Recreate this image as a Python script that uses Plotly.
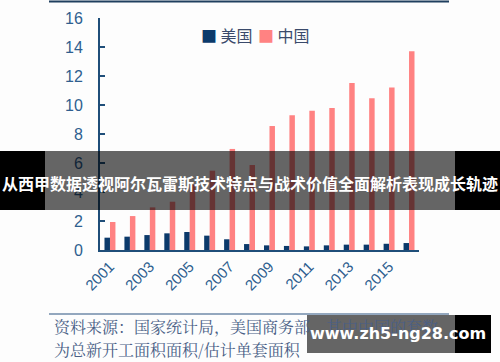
import plotly.graph_objects as go

years = list(range(2001, 2017))
us_values = [0.85, 0.92, 1.03, 1.15, 1.24, 0.99, 0.74, 0.41, 0.32, 0.28, 0.25, 0.32, 0.37, 0.37, 0.43, 0.48]
cn_values = [1.93, 2.34, 2.94, 3.33, 4.5, 5.47, 6.97, 5.86, 8.55, 9.29, 9.61, 9.79, 11.52, 10.46, 11.2, 13.7]
series_names = ["美国", "中国"]
series_colors = ["#0B3A6B", "#FF8282"]
x_tick_labels = [str(y) for y in range(2001, 2016, 2)]
y_tick_vals = list(range(0, 17, 2))
banner_text = "从西甲数据透视阿尔瓦雷斯技术特点与战术价值全面解析表现成长轨迹"
source_lines = ["资料来源：国家统计局，美国商务部，其中中国的套数", "为总新开工面积面积/估计单套面积"]
watermark = "www.zh5-ng28.com"

W, H = 500, 362
L, R, T, B = 100, 419, 18, 250


def px(x):
    return (x - L) / (R - L)


def py(y):
    return (B - y) / (B - T)


AX = "#1F4E79"
TICK = "#2F5F8F"
CJK = "Noto Sans CJK SC, sans-serif"
SERIF_CJK = "Noto Serif CJK SC, Noto Sans CJK SC, serif"

fig = go.Figure()
for name, vals, col in zip(series_names, [us_values, cn_values], series_colors):
    fig.add_bar(x=years, y=vals, name=name, marker_color=col, marker_line_width=0)

fig.update_layout(
    width=W, height=H,
    margin=dict(l=L, r=W - R, t=T, b=H - B, pad=0, autoexpand=False),
    paper_bgcolor="#FDFDFD", plot_bgcolor="#FDFDFD",
    barmode="group", bargap=0.45, bargroupgap=0.0,
    showlegend=False,
    font=dict(family="Liberation Sans, Arial, sans-serif"),
)
fig.update_xaxes(
    range=[2000.5, 2016.5], tickvals=[int(t) for t in x_tick_labels], ticktext=x_tick_labels,
    tickangle=-45, showline=True, linecolor=AX, linewidth=2, showgrid=False, zeroline=False,
    ticks="", automargin=False,
    tickfont=dict(size=15, color=TICK, family="Liberation Sans, Arial, sans-serif"),
)
fig.update_yaxes(
    range=[0, 16], tickvals=y_tick_vals, showline=True, linecolor=AX, linewidth=2,
    showgrid=False, zeroline=False, ticks="inside", ticklen=5, tickcolor=AX, tickwidth=2,
    ticklabelstandoff=12, automargin=False,
    tickfont=dict(size=16, color=TICK, family="Liberation Sans, Arial, sans-serif"),
)

shapes = []
shapes.append(dict(type="line", xref="paper", yref="paper", x0=px(49), x1=px(449), y0=py(1.5), y1=py(1.5),
                   line=dict(color="#1F3F5F", width=2), layer="above"))
shapes.append(dict(type="line", xref="paper", yref="paper", x0=px(49), x1=px(449), y0=py(314), y1=py(314),
                   line=dict(color="#6F8AA8", width=1.5), layer="above"))
shapes.append(dict(type="rect", xref="paper", yref="paper", x0=px(0), x1=px(45), y0=py(151), y1=py(210),
                   fillcolor="black", line=dict(width=0), layer="above"))
shapes.append(dict(type="rect", xref="paper", yref="paper", x0=px(455), x1=px(500), y0=py(151), y1=py(210),
                   fillcolor="black", line=dict(width=0), layer="above"))
shapes.append(dict(type="rect", xref="paper", yref="paper", x0=px(45), x1=px(455), y0=py(151), y1=py(210),
                   fillcolor="rgba(0,0,0,0.6)", line=dict(width=0), layer="above"))
shapes.append(dict(type="rect", xref="paper", yref="paper", x0=px(307), x1=px(455), y0=py(315), y1=py(353),
                   fillcolor="rgba(0,0,0,0.6)", line=dict(width=0), layer="above"))
shapes.append(dict(type="rect", xref="paper", yref="paper", x0=px(455), x1=px(491), y0=py(315), y1=py(353),
                   fillcolor="black", line=dict(width=0), layer="above"))
fig.update_layout(shapes=shapes)

ann = []
for name, col, x0 in zip(series_names, series_colors, [199, 256]):
    ann.append(dict(text=f"<span style='color:{col}'>■</span> {name}", xref="paper", yref="paper",
                    x=px(x0), y=py(35), xanchor="left", yanchor="middle", showarrow=False,
                    font=dict(family=CJK, size=16, color="#3A4A6B")))
ann.append(dict(text=f"<b>{banner_text}</b>", xref="paper", yref="paper", x=px(250), y=py(183),
                xanchor="center", yanchor="middle", showarrow=False,
                font=dict(family=CJK, size=16, color="white")))
ann.append(dict(text=source_lines[0], xref="paper", yref="paper", x=px(52), y=py(326),
                xanchor="left", yanchor="middle", showarrow=False,
                font=dict(family=SERIF_CJK, size=16, color="#4A5F86")))
ann.append(dict(text=source_lines[1], xref="paper", yref="paper", x=px(52), y=py(350),
                xanchor="left", yanchor="middle", showarrow=False,
                font=dict(family=SERIF_CJK, size=16, color="#4A5F86")))
ann.append(dict(text=f"<b>{watermark}</b>", xref="paper", yref="paper", x=px(398), y=py(333),
                xanchor="center", yanchor="middle", showarrow=False,
                font=dict(family="DejaVu Sans, sans-serif", size=16, color="white")))
fig.update_layout(annotations=ann)

fig.write_html("out.html", config={"displayModeBar": False},
               post_script="document.body.style.margin='0';document.body.style.overflow='hidden';")
